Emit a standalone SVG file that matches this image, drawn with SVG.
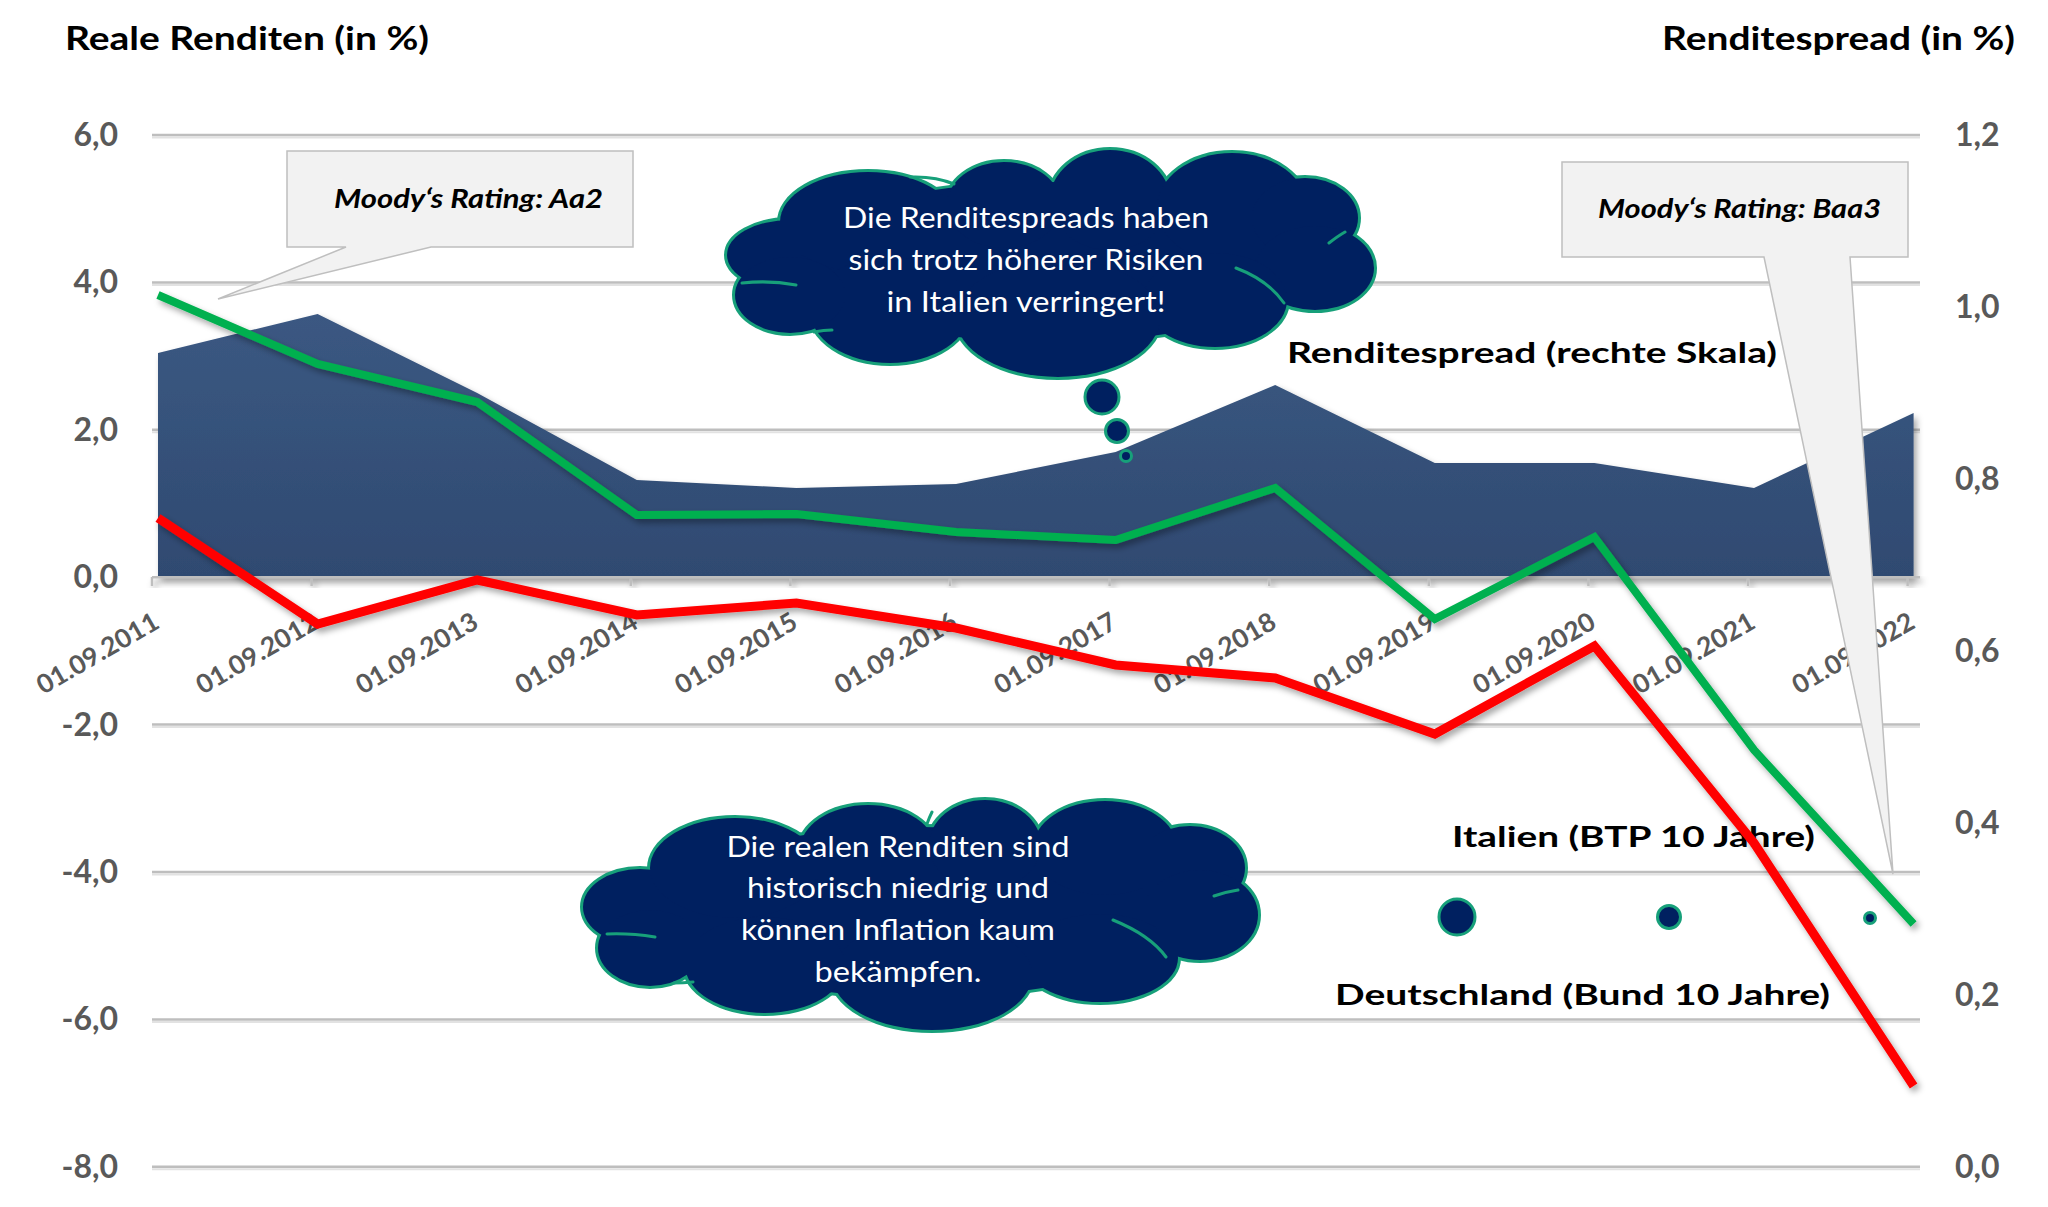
<svg xmlns="http://www.w3.org/2000/svg" xmlns:xlink="http://www.w3.org/1999/xlink" width="2048" height="1207" viewBox="0 0 2048 1207">
<style>
text{font-family:Lato,"Open Sans","Liberation Sans",sans-serif}
.title{font-size:32px;font-weight:700;fill:#000}
.lab{font-size:29px;font-weight:700;fill:#000}
.ax{font-size:32px;font-weight:700;fill:#595959}
.date{font-size:26px;font-weight:700;fill:#595959}
.moody{font-size:26px;font-weight:700;font-style:italic;fill:#000}
.ct{font-size:29px;fill:#fff;text-anchor:middle}
.grid{stroke:#BEBEBE;stroke-width:2.5}
.grid2{stroke:#E2E2E2;stroke-width:2}
.cstroke{fill:none;stroke:#17A07A;stroke-width:6}
.cfill{fill:#002060;stroke:none}
.inner{fill:none;stroke:#17A07A;stroke-width:3;stroke-linecap:round}
.bubble{fill:#002060;stroke:#17A07A;stroke-width:3}
.callout{fill:#F2F2F2;stroke:#BFBFBF;stroke-width:1.5}
</style>
<defs>
<filter id="sh" x="-5%" y="-5%" width="110%" height="120%">
<feDropShadow dx="3" dy="4" stdDeviation="3" flood-color="#000" flood-opacity="0.35"/>
</filter>
<linearGradient id="areaG" x1="0" y1="0" x2="0" y2="1">
<stop offset="0" stop-color="#3B5882"/>
<stop offset="1" stop-color="#2F4A71"/>
</linearGradient>
<g id="c1shape">
<ellipse cx="1050" cy="262" rx="265" ry="80"/>
<ellipse cx="790" cy="255" rx="63" ry="35"/>
<ellipse cx="868" cy="222" rx="88" ry="50"/>
<ellipse cx="1004" cy="205" rx="57" ry="43"/>
<ellipse cx="1110" cy="200" rx="60" ry="50"/>
<ellipse cx="1232" cy="208" rx="75" ry="55"/>
<ellipse cx="1305" cy="218" rx="53" ry="40"/>
<ellipse cx="1315" cy="268" rx="59" ry="42"/>
<ellipse cx="1215" cy="300" rx="72" ry="47"/>
<ellipse cx="1058" cy="318" rx="102" ry="59"/>
<ellipse cx="890" cy="310" rx="80" ry="53"/>
<ellipse cx="790" cy="295" rx="55" ry="38"/>
</g>
<g id="c2shape">
<ellipse cx="920" cy="912" rx="275" ry="85"/>
<ellipse cx="640" cy="907" rx="57" ry="38"/>
<ellipse cx="735" cy="868" rx="85" ry="50"/>
<ellipse cx="868" cy="850" rx="68" ry="45"/>
<ellipse cx="985" cy="845" rx="56" ry="45"/>
<ellipse cx="1105" cy="848" rx="72" ry="47"/>
<ellipse cx="1190" cy="868" rx="55" ry="42"/>
<ellipse cx="1200" cy="915" rx="58" ry="45"/>
<ellipse cx="1100" cy="958" rx="78" ry="44"/>
<ellipse cx="932" cy="975" rx="100" ry="55"/>
<ellipse cx="765" cy="965" rx="80" ry="48"/>
<ellipse cx="650" cy="948" rx="52" ry="38"/>
</g>
</defs>

<rect x="0" y="0" width="2048" height="1207" fill="#fff"/>

<g id="titles">
<text class="title" x="65" y="50" textLength="364" lengthAdjust="spacingAndGlyphs">Reale Renditen (in %)</text>
<text class="title" x="1662" y="50" textLength="353" lengthAdjust="spacingAndGlyphs">Renditespread (in %)</text>
</g>

<g id="gridlines">
<line class="grid2" x1="152" y1="137.5" x2="1920" y2="137.5"/>
<line class="grid" x1="152" y1="135" x2="1920" y2="135"/>
<line class="grid2" x1="152" y1="284.9" x2="1920" y2="284.9"/>
<line class="grid" x1="152" y1="282.4" x2="1920" y2="282.4"/>
<line class="grid2" x1="152" y1="432.3" x2="1920" y2="432.3"/>
<line class="grid" x1="152" y1="429.8" x2="1920" y2="429.8"/>
<line class="grid2" x1="152" y1="727.1" x2="1920" y2="727.1"/>
<line class="grid" x1="152" y1="724.6" x2="1920" y2="724.6"/>
<line class="grid2" x1="152" y1="874.5" x2="1920" y2="874.5"/>
<line class="grid" x1="152" y1="872" x2="1920" y2="872"/>
<line class="grid2" x1="152" y1="1021.9" x2="1920" y2="1021.9"/>
<line class="grid" x1="152" y1="1019.4" x2="1920" y2="1019.4"/>
<line class="grid2" x1="152" y1="1169.3" x2="1920" y2="1169.3"/>
<line class="grid" x1="152" y1="1166.8" x2="1920" y2="1166.8"/>
</g>

<g id="left-axis">
<text class="ax" x="118" y="146" text-anchor="end">6,0</text>
<text class="ax" x="118" y="293" text-anchor="end">4,0</text>
<text class="ax" x="118" y="441" text-anchor="end">2,0</text>
<text class="ax" x="118" y="588" text-anchor="end">0,0</text>
<text class="ax" x="118" y="736" text-anchor="end">-2,0</text>
<text class="ax" x="118" y="883" text-anchor="end">-4,0</text>
<text class="ax" x="118" y="1030" text-anchor="end">-6,0</text>
<text class="ax" x="118" y="1178" text-anchor="end">-8,0</text>
</g>

<g id="right-axis">
<text class="ax" x="1955" y="146">1,2</text>
<text class="ax" x="1955" y="318">1,0</text>
<text class="ax" x="1955" y="490">0,8</text>
<text class="ax" x="1955" y="662">0,6</text>
<text class="ax" x="1955" y="834">0,4</text>
<text class="ax" x="1955" y="1006">0,2</text>
<text class="ax" x="1955" y="1178">0,0</text>
</g>

<g id="spread-area">
<polygon filter="url(#sh)" fill="url(#areaG)" points="158,577 158,353 317.6,314 477.2,393 636.8,480 796.4,488 956,484 1115.6,452 1275.2,385 1434.8,463 1594.4,463 1754,488 1913.6,413 1913.6,577"/>
</g>

<g id="x-axis" filter="url(#sh)">
<path d="M152,577.2 H1920 M152,577 V586 M311.6,577 V586 M471.2,577 V586 M630.8,577 V586 M790.4,577 V586 M950,577 V586 M1109.6,577 V586 M1269.2,577 V586 M1428.8,577 V586 M1588.4,577 V586 M1748,577 V586 M1907.6,577 V586" stroke="#BEBEBE" stroke-width="2.5" fill="none"/>
</g>

<g id="date-labels">
<text class="date" text-anchor="end" transform="translate(161,627) rotate(-30)" textLength="136" lengthAdjust="spacingAndGlyphs">01.09.2011</text>
<text class="date" text-anchor="end" transform="translate(320.6,627) rotate(-30)" textLength="136" lengthAdjust="spacingAndGlyphs">01.09.2012</text>
<text class="date" text-anchor="end" transform="translate(480.2,627) rotate(-30)" textLength="136" lengthAdjust="spacingAndGlyphs">01.09.2013</text>
<text class="date" text-anchor="end" transform="translate(639.8,627) rotate(-30)" textLength="136" lengthAdjust="spacingAndGlyphs">01.09.2014</text>
<text class="date" text-anchor="end" transform="translate(799.4,627) rotate(-30)" textLength="136" lengthAdjust="spacingAndGlyphs">01.09.2015</text>
<text class="date" text-anchor="end" transform="translate(959,627) rotate(-30)" textLength="136" lengthAdjust="spacingAndGlyphs">01.09.2016</text>
<text class="date" text-anchor="end" transform="translate(1118.6,627) rotate(-30)" textLength="136" lengthAdjust="spacingAndGlyphs">01.09.2017</text>
<text class="date" text-anchor="end" transform="translate(1278.2,627) rotate(-30)" textLength="136" lengthAdjust="spacingAndGlyphs">01.09.2018</text>
<text class="date" text-anchor="end" transform="translate(1437.8,627) rotate(-30)" textLength="136" lengthAdjust="spacingAndGlyphs">01.09.2019</text>
<text class="date" text-anchor="end" transform="translate(1597.4,627) rotate(-30)" textLength="136" lengthAdjust="spacingAndGlyphs">01.09.2020</text>
<text class="date" text-anchor="end" transform="translate(1757,627) rotate(-30)" textLength="136" lengthAdjust="spacingAndGlyphs">01.09.2021</text>
<text class="date" text-anchor="end" transform="translate(1916.6,627) rotate(-30)" textLength="136" lengthAdjust="spacingAndGlyphs">01.09.2022</text>
</g>

<g id="series-labels">
<text class="lab" x="1287" y="363" textLength="490" lengthAdjust="spacingAndGlyphs">Renditespread (rechte Skala)</text>
<text class="lab" x="1452" y="847" textLength="363" lengthAdjust="spacingAndGlyphs">Italien (BTP 10 Jahre)</text>
<text class="lab" x="1335" y="1005" textLength="495" lengthAdjust="spacingAndGlyphs">Deutschland (Bund 10 Jahre)</text>
</g>

<g id="connectors">
<polyline id="italien-line" filter="url(#sh)" fill="none" stroke="#00B050" stroke-width="8" stroke-linejoin="miter" points="158,295 317.6,364 477.2,402 636.8,515 796.4,514 956,532 1115.6,540 1275.2,488 1434.8,619 1594.4,537 1754,750 1913.6,924"/>
<polyline id="deutschland-line" filter="url(#sh)" fill="none" stroke="#FF0000" stroke-width="9" stroke-linejoin="miter" points="158,518 317.6,624 477.2,580 636.8,615 796.4,603 956,628 1115.6,665 1275.2,678 1434.8,734 1594.4,646 1754,843 1913.6,1086"/>
</g>

<g id="callout-aa2">
<path class="callout" d="M287,151 H633 V247 H431 L218,299 L346,247 H287 Z"/>
<text class="moody" x="334" y="208" textLength="269" lengthAdjust="spacingAndGlyphs">Moody‘s Rating: Aa2</text>
</g>

<g id="callout-baa3">
<path class="callout" d="M1562,162 H1908 V257 H1850 L1893,874 L1764,257 H1562 Z"/>
<text class="moody" x="1598" y="218" textLength="283" lengthAdjust="spacingAndGlyphs">Moody‘s Rating: Baa3</text>
</g>

<g id="cloud-spreads">
<use xlink:href="#c1shape" class="cstroke"/>
<use xlink:href="#c1shape" class="cfill"/>
<path class="inner" d="M910,177 Q935,176 954,184 M1329,243 Q1338,236 1345,232 M1236,268 Q1268,280 1284,303 M742,283 Q770,280 796,285 M814,332 Q824,330 832,330"/>
<circle class="bubble" cx="1102" cy="397" r="17"/>
<circle class="bubble" cx="1117" cy="431" r="11.5"/>
<circle class="bubble" cx="1126" cy="456" r="5.5"/>
<text class="ct" x="1026" y="228" textLength="366" lengthAdjust="spacingAndGlyphs">Die Renditespreads haben</text>
<text class="ct" x="1026" y="270" textLength="355" lengthAdjust="spacingAndGlyphs">sich trotz höherer Risiken</text>
<text class="ct" x="1026" y="312" textLength="279" lengthAdjust="spacingAndGlyphs">in Italien verringert!</text>
</g>

<g id="cloud-renditen">
<use xlink:href="#c2shape" class="cstroke"/>
<use xlink:href="#c2shape" class="cfill"/>
<path class="inner" d="M932,812 Q929,818 927,824 M1238,890 Q1225,892 1214,896 M1113,920 Q1150,935 1166,957 M655,937 Q630,933 607,934 M693,982 Q683,983 674,983"/>
<circle class="bubble" cx="1457" cy="917" r="18"/>
<circle class="bubble" cx="1669" cy="917" r="11.5"/>
<circle class="bubble" cx="1870" cy="918" r="5.5"/>
<text class="ct" x="898" y="857" textLength="343" lengthAdjust="spacingAndGlyphs">Die realen Renditen sind</text>
<text class="ct" x="898" y="898" textLength="302" lengthAdjust="spacingAndGlyphs">historisch niedrig und</text>
<text class="ct" x="898" y="940" textLength="314" lengthAdjust="spacingAndGlyphs">können Inflation kaum</text>
<text class="ct" x="898" y="982" textLength="167" lengthAdjust="spacingAndGlyphs">bekämpfen.</text>
</g>
</svg>
